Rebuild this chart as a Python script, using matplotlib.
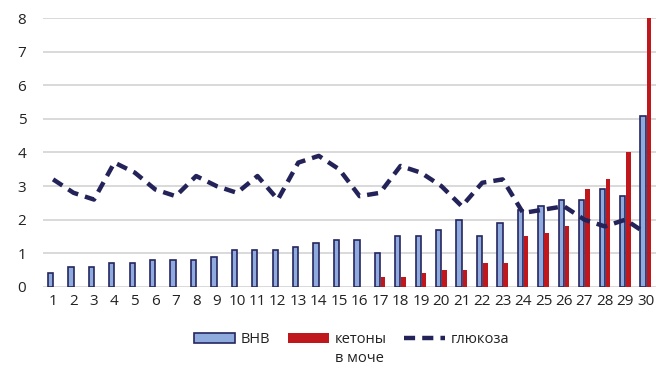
import matplotlib
matplotlib.use("Agg")
import matplotlib.pyplot as plt
import numpy as np

plt.rcParams['font.family'] = ['Open Sans', 'DejaVu Sans']

categories = list(range(1, 31))
bhb = [0.4, 0.6, 0.6, 0.7, 0.7, 0.8, 0.8, 0.8, 0.9, 1.1, 1.1, 1.1, 1.2, 1.3, 1.4,
       1.4, 1.0, 1.5, 1.5, 1.7, 2.0, 1.5, 1.9, 2.3, 2.4, 2.6, 2.6, 2.9, 2.7, 5.1]
ketones = [0, 0, 0, 0, 0, 0, 0, 0, 0, 0, 0, 0, 0, 0, 0,
           0, 0.3, 0.3, 0.4, 0.5, 0.5, 0.7, 0.7, 1.5, 1.6, 1.8, 2.9, 3.2, 4.0, 8.0]
glucose = [3.2, 2.8, 2.6, 3.7, 3.4, 2.9, 2.7, 3.3, 3.0, 2.8, 3.3, 2.6, 3.7, 3.9, 3.5,
           2.7, 2.8, 3.6, 3.4, 3.0, 2.4, 3.1, 3.2, 2.2, 2.3, 2.4, 2.0, 1.8, 2.0, 1.6]
labels = ['BHB', 'кетоны', 'глюкоза']
label_extra = 'в моче'
yticks = [0, 1, 2, 3, 4, 5, 6, 7, 8]

fig = plt.figure(figsize=(6.7, 3.77), dpi=100)
ax = fig.add_axes([0.064, 0.239, 0.915, 0.713])

x = np.array(categories)
w = 0.26
b1 = ax.bar(x - w / 2, bhb, width=w, color='#8FAADC', edgecolor='#262660', linewidth=1.2,
            label=labels[0], zorder=3)
b2 = ax.bar(x + w / 2 + 0.02, ketones, width=w - 0.04, color='#C0171C', edgecolor='none',
            label=labels[1], zorder=3)
l1, = ax.plot(x, glucose, color='#23235A', linewidth=3.2, linestyle=(0, (2.5, 1.6)),
              label=labels[2], zorder=4)

ax.set_xlim(0.5, 30.5)
ax.set_ylim(0, 8)
ax.set_yticks(yticks)
ax.set_xticks(categories)
ax.set_xticklabels([str(c) for c in categories])
ax.grid(axis='y', color='#D0D0D0', linewidth=1.1, zorder=0)
ax.set_axisbelow(True)
for s in ax.spines.values():
    s.set_visible(False)
ax.tick_params(axis='both', length=0, labelsize=11, colors='#222222')
ax.tick_params(axis='y', pad=12)
ax.tick_params(axis='x', pad=5)

leg = fig.legend([b1, b2, l1], labels, loc='upper center', bbox_to_anchor=(0.525, 0.135),
                 ncol=3, frameon=False, fontsize=10.5, handlelength=2.8,
                 columnspacing=1.2, handletextpad=0.4, borderaxespad=0)
for t in leg.get_texts():
    t.set_color('#222222')

fig.canvas.draw()
renderer = fig.canvas.get_renderer()
tb = leg.get_texts()[1].get_window_extent(renderer)
inv = fig.transFigure.inverted()
x0, y0 = inv.transform((tb.x0, tb.y0))
fig.text(x0, y0 - 0.012, label_extra, ha='left', va='top', fontsize=10.5, color='#222222')

fig.savefig('out.png', dpi=100)
